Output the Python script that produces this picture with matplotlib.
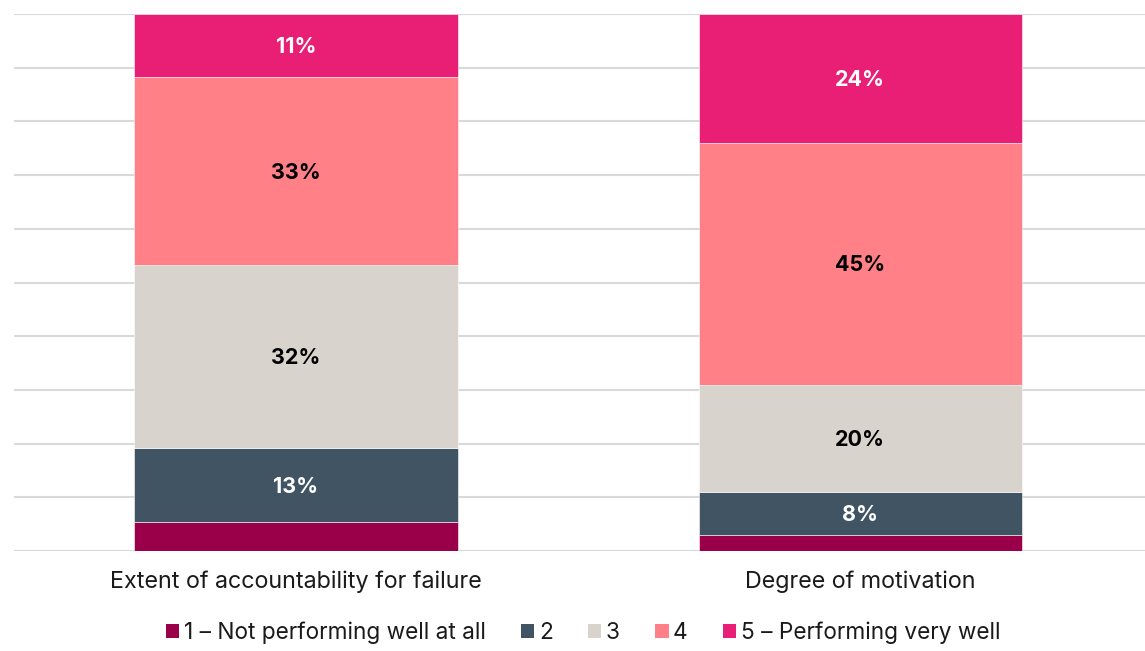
import numpy as np
import matplotlib.pyplot as plt
from matplotlib.patches import Patch

plt.rcParams['font.family'] = ['Inter', 'DejaVu Sans']

categories = ['Extent of accountability for failure', 'Degree of motivation']
series = ['1 \u2013 Not performing well at all', '2', '3', '4', '5 \u2013 Performing very well']
values = [
    [5, 3],    # 1
    [13, 8],   # 2
    [32, 20],  # 3
    [33, 45],  # 4
    [11, 24],  # 5
]
colors = ['#990049', '#415464', '#d8d3cd', '#ff8087', '#e91e75']
label_colors = ['white', 'white', 'black', 'black', 'white']
show_label = [False, True, True, True, True]

vals = np.array(values, dtype=float)
shares = vals / vals.sum(axis=0) * 100

fig = plt.figure(figsize=(11.45, 6.51), dpi=100)
ax = fig.add_axes([14 / 1145, 1 - 551 / 651, 1 - 14 / 1145, (551 - 14) / 651])

x = np.arange(len(categories))
bottom = np.zeros(len(categories))
for i, name in enumerate(series):
    ax.bar(x, shares[i], bottom=bottom, width=0.573, color=colors[i],
           edgecolor='white', linewidth=0.4, zorder=3)
    if show_label[i]:
        for j in range(len(categories)):
            ax.text(x[j], bottom[j] + shares[i][j] / 2 - 0.3, f'{int(vals[i][j])}%',
                    ha='center', va='center', fontsize=15.5, fontweight='bold',
                    color=label_colors[i], zorder=4)
    bottom += shares[i]

ax.set_xlim(-0.5, 1.505)
ax.set_ylim(0, 100)
ax.set_yticks(np.arange(0, 101, 10))
ax.set_yticklabels([])
ax.tick_params(axis='y', length=0)
ax.tick_params(axis='x', length=0, pad=14, labelsize=16.8, labelcolor='#1a1a1a')
ax.set_xticks(x)
ax.set_xticklabels(categories)
ax.grid(axis='y', color='#d9d9d9', linewidth=1.5, zorder=0)
for s in ax.spines.values():
    s.set_visible(False)

handles = [Patch(facecolor=c, edgecolor='none') for c in colors]
fig.legend(handles, series, loc='center', bbox_to_anchor=(583 / 1145, 1 - 633 / 651),
           ncol=5, frameon=False, fontsize=16.3, handlelength=0.6, handleheight=0.6,
           handletextpad=0.2, columnspacing=1.55, labelcolor='#1a1a1a')

plt.savefig('out.png', dpi=100)
